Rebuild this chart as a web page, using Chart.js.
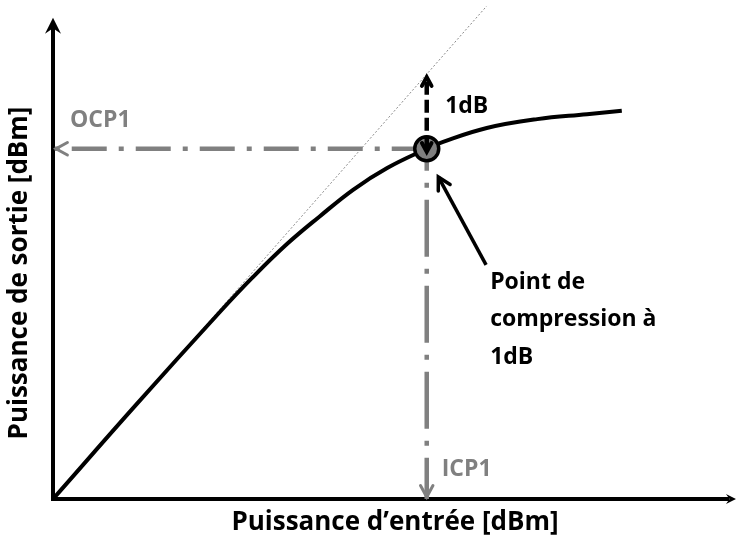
<!DOCTYPE html>
<html>
<head>
<meta charset="utf-8">
<script src="https://cdn.jsdelivr.net/npm/chart.js@4/dist/chart.umd.min.js"></script>
<style>
  html, body { margin: 0; padding: 0; background: #fff; overflow: hidden; }
  #wrap { width: 737px; height: 542px; position: relative; }
  canvas { display: block; }
</style>
</head>
<body>
<div id="wrap"><canvas id="compChart"></canvas></div>
<script>
// transfer curve (arbitrary units)
const inputPower  = [0, 12, 24.5, 29.3, 34.3, 39.1, 44.0, 49.0, 54.8, 57.2, 63.6, 71.0, 78.3, 83.4];
const outputPower = [0, 18.8, 37.9, 44.9, 51.6, 57.2, 62.6, 67.0, 70.9, 72.3, 75.1, 76.9, 77.9, 78.6];
// ideal linear gain
const idealIn  = [0, 63.6];
const idealOut = [0, 99.8];
// 1 dB compression point
const icp1 = 54.8;
const ocp1 = 70.9;
const idealAtIcp = 85.4;

const labelOCP = 'OCP1';
const labelICP = 'ICP1';
const label1dB = '1dB';
const labelPoint = ['Point de', 'compression à', '1dB'];
const xTitle = 'Puissance d\u2019entrée [dBm]';
const yTitle = 'Puissance de sortie [dBm]';

const GREY = '#808080';
const FONT = 'bold 23px "Open Sans"';
const TITLE_FONT = 'bold 26px "Open Sans"';

const pts = (xs, ys) => xs.map((x, i) => ({ x: x, y: ys[i] }));

function chevron(ctx, x, y, ang, len, w, color) {
  ctx.save();
  ctx.strokeStyle = color;
  ctx.lineWidth = w;
  ctx.lineCap = 'round';
  ctx.beginPath();
  ctx.moveTo(x - len * Math.cos(ang - 0.5), y - len * Math.sin(ang - 0.5));
  ctx.lineTo(x, y);
  ctx.lineTo(x - len * Math.cos(ang + 0.5), y - len * Math.sin(ang + 0.5));
  ctx.stroke();
  ctx.restore();
}

function stealth(ctx, x, y, ang, len, half, color) {
  ctx.save();
  ctx.translate(x, y);
  ctx.rotate(ang);
  ctx.fillStyle = color;
  ctx.beginPath();
  ctx.moveTo(0, 0);
  ctx.lineTo(-len, -half);
  ctx.lineTo(-len * 0.65, 0);
  ctx.lineTo(-len, half);
  ctx.closePath();
  ctx.fill();
  ctx.restore();
}

const annot = {
  id: 'annot',
  beforeDatasetsDraw(chart) {
    const ctx = chart.ctx, xs = chart.scales.x, ys = chart.scales.y;
    const x0 = xs.getPixelForValue(0), y0 = ys.getPixelForValue(0);
    const top = ys.getPixelForValue(97.4), right = xs.getPixelForValue(100);
    ctx.save();
    ctx.strokeStyle = '#000';
    ctx.lineWidth = 4;
    ctx.beginPath();
    ctx.moveTo(x0, top + 6);
    ctx.lineTo(x0, y0);
    ctx.lineTo(right - 6, y0);
    ctx.stroke();
    stealth(ctx, x0, top, -Math.PI / 2, 16, 8, '#000');
    stealth(ctx, right + 1, y0, 0, 10, 5, '#000');
    ctx.restore();
  },
  afterDatasetsDraw(chart) {
    const ctx = chart.ctx, xs = chart.scales.x, ys = chart.scales.y;
    const px = v => xs.getPixelForValue(v), py = v => ys.getPixelForValue(v);

    // grey arrowheads
    chevron(ctx, px(0) + 3, py(ocp1), Math.PI, 13, 3, GREY);
    chevron(ctx, px(icp1), py(0) - 2, Math.PI / 2, 13, 3, GREY);
    // 1dB double arrow heads
    chevron(ctx, px(icp1), py(idealAtIcp), -Math.PI / 2, 10, 4, '#000');
    chevron(ctx, px(icp1), py(ocp1) + 3, Math.PI / 2, 10, 4, '#000');

    // pointer arrow from the text to the point
    const ax = px(63.5), ay = py(47.4), bx = px(56.5), by = py(65.2);
    ctx.save();
    ctx.strokeStyle = '#000';
    ctx.lineWidth = 3.5;
    ctx.beginPath();
    ctx.moveTo(ax, ay);
    ctx.lineTo(bx, by);
    ctx.stroke();
    ctx.restore();
    chevron(ctx, bx, by, Math.atan2(by - ay, bx - ax), 14, 3.5, '#000');

    // texts
    ctx.save();
    ctx.font = FONT;
    ctx.textBaseline = 'middle';
    ctx.textAlign = 'left';
    ctx.fillStyle = GREY;
    ctx.fillText(labelOCP, px(2.5), py(76.7));
    ctx.fillText(labelICP, px(57.0), py(5.9));
    ctx.fillStyle = '#000';
    ctx.fillText(label1dB, px(57.5), py(79.4));
    labelPoint.forEach((t, i) => ctx.fillText(t, px(64.1), py(43.9) + i * 37.5));

    const ca = chart.chartArea;
    ctx.font = TITLE_FONT;
    ctx.textAlign = 'center';
    ctx.fillText(xTitle, 395, ca.bottom + 24);
    ctx.translate(20, 273);
    ctx.rotate(-Math.PI / 2);
    ctx.fillText(yTitle, 0, 0);
    ctx.restore();
  }
};

new Chart(document.getElementById('compChart'), {
  type: 'line',
  data: {
    datasets: [
      {
        label: '1dB',
        data: pts([icp1, icp1], [ocp1, idealAtIcp]),
        borderColor: '#000',
        borderWidth: 4.5,
        borderDash: [13, 5],
        pointRadius: 0,
        order: 0
      },
      {
        label: 'P1dB',
        data: pts([icp1], [ocp1]),
        showLine: false,
        pointRadius: 12,
        pointBackgroundColor: '#7f7f7f',
        pointBorderColor: '#000',
        pointBorderWidth: 3.5,
        order: 1
      },
      {
        label: 'Pout',
        data: pts(inputPower, outputPower),
        borderColor: '#000',
        borderWidth: 4,
        tension: 0.4,
        pointRadius: 0,
        order: 2
      },
      {
        label: 'OCP1',
        data: pts([icp1, 0], [ocp1, ocp1]),
        borderColor: GREY,
        borderWidth: 4.5,
        borderDash: [35, 12, 5, 12],
        pointRadius: 0,
        order: 3
      },
      {
        label: 'ICP1',
        data: pts([icp1, icp1], [ocp1, 0]),
        borderColor: GREY,
        borderWidth: 4.5,
        borderDash: [22, 12, 5, 12, 35, 0],
        pointRadius: 0,
        order: 3
      },
      {
        label: 'lineaire',
        data: pts(idealIn, idealOut),
        borderColor: '#8a8a8a',
        borderWidth: 1,
        borderDash: [2, 2],
        pointRadius: 0,
        order: 4
      }
    ]
  },
  options: {
    responsive: true,
    maintainAspectRatio: false,
    animation: false,
    layout: { autoPadding: false, padding: { left: 53, right: 2, top: 5, bottom: 43 } },
    scales: {
      x: { type: 'linear', min: 0, max: 100, display: false },
      y: { type: 'linear', min: 0, max: 100, display: false }
    },
    plugins: {
      legend: { display: false },
      tooltip: { enabled: false }
    }
  },
  plugins: [annot]
});
</script>
</body>
</html>
